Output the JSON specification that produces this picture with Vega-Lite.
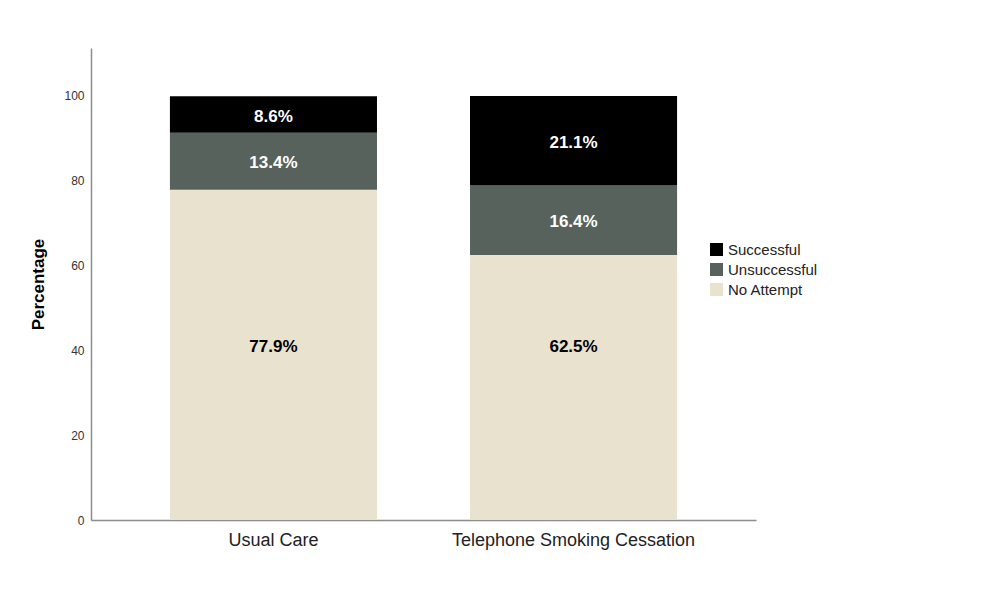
{
  "$schema": "https://vega.github.io/schema/vega-lite/v6.json",
  "width": 665,
  "height": 472,
  "autosize": {"type": "none"},
  "padding": {"left": 91, "top": 48, "right": 235, "bottom": 74},
  "background": "white",
  "config": {
    "font": "Liberation Sans",
    "view": {"stroke": null},
    "axis": {"grid": false, "ticks": false, "domainColor": "#8c8c8c", "domainWidth": 1.5}
  },
  "data": {
    "values": [
      {"group": "Usual Care", "outcome": "No Attempt", "pct": 77.9},
      {"group": "Usual Care", "outcome": "Unsuccessful", "pct": 13.4},
      {"group": "Usual Care", "outcome": "Successful", "pct": 8.6},
      {"group": "Telephone Smoking Cessation", "outcome": "No Attempt", "pct": 62.5},
      {"group": "Telephone Smoking Cessation", "outcome": "Unsuccessful", "pct": 16.4},
      {"group": "Telephone Smoking Cessation", "outcome": "Successful", "pct": 21.1}
    ]
  },
  "transform": [
    {"calculate": "indexof(['No Attempt', 'Unsuccessful', 'Successful'], datum.outcome)", "as": "rank"},
    {"stack": "pct", "groupby": ["group"], "sort": [{"field": "rank", "order": "ascending"}], "as": ["lo", "hi"]},
    {"calculate": "datum.rank == 0 ? max((datum.lo + datum.hi) / 2, 40.8) : (datum.lo + datum.hi) / 2 - 0.5", "as": "mid"},
    {"calculate": "format(datum.pct, '.1f') + '%'", "as": "label"}
  ],
  "encoding": {
    "x": {
      "field": "group",
      "type": "nominal",
      "sort": ["Usual Care", "Telephone Smoking Cessation"],
      "scale": {"paddingInner": 0.31, "paddingOuter": 0.263},
      "axis": {"title": null, "labelAngle": 0, "labelFontSize": 18, "labelLimit": 0, "labelColor": "#222222", "labelPadding": 11}
    }
  },
  "layer": [
    {
      "mark": {"type": "bar"},
      "encoding": {
        "y": {
          "field": "lo",
          "type": "quantitative",
          "scale": {"domain": [0, 111.3], "nice": false},
          "axis": {
            "title": "Percentage",
            "titleFontSize": 17,
            "titleFontWeight": "bold",
            "titleColor": "#000000",
            "titlePadding": 16,
            "values": [0, 20, 40, 60, 80, 100],
            "labelFontSize": 12,
            "labelColor": "#333333",
            "labelPadding": 7
          }
        },
        "y2": {"field": "hi"},
        "color": {
          "field": "outcome",
          "type": "nominal",
          "scale": {
            "domain": ["Successful", "Unsuccessful", "No Attempt"],
            "range": ["#000000", "#58625c", "#e9e2cf"]
          },
          "legend": {
            "title": null,
            "orient": "none",
            "legendX": 618,
            "legendY": 194,
            "symbolType": "square",
            "symbolSize": 170,
            "symbolStrokeWidth": 0,
            "symbolOpacity": 1,
            "labelFontSize": 15,
            "labelColor": "#222222",
            "labelOffset": 4,
            "rowPadding": 4
          }
        }
      }
    },
    {
      "mark": {"type": "text", "fontSize": 17, "fontWeight": "bold", "baseline": "middle"},
      "encoding": {
        "y": {"field": "mid", "type": "quantitative"},
        "text": {"field": "label"},
        "color": {
          "condition": {"test": "datum.outcome == 'No Attempt'", "value": "#000000"},
          "value": "#ffffff"
        }
      }
    }
  ]
}
